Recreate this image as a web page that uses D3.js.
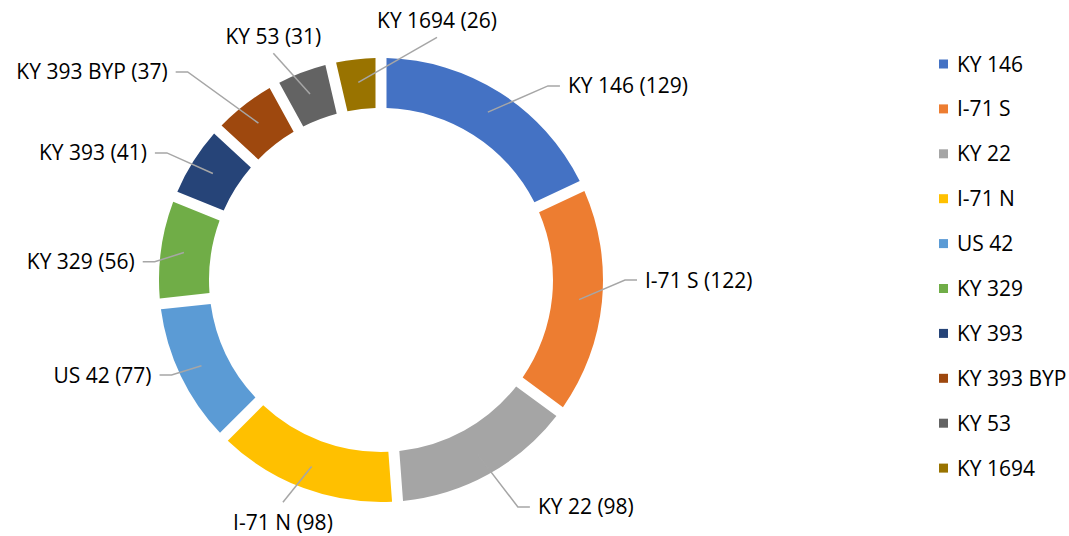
<!DOCTYPE html>
<html>
<head>
<meta charset="utf-8">
<script src="https://cdn.jsdelivr.net/npm/d3@7"></script>
<style>
  html, body { margin: 0; padding: 0; background: #fff; }
  text { font-family: "Open Sans", sans-serif; font-size: 21px; fill: #000; }
</style>
</head>
<body>
<div id="chart"></div>
<script>
var roads = ["KY 146", "I-71 S", "KY 22", "I-71 N", "US 42", "KY 329", "KY 393", "KY 393 BYP", "KY 53", "KY 1694"];
var counts = [129, 122, 98, 98, 77, 56, 41, 37, 31, 26];
var colors = ["#4472C4", "#ED7D31", "#A5A5A5", "#FFC000", "#5B9BD5", "#70AD47", "#264478", "#9E480E", "#636363", "#997300"];

// where Excel put the elbow of each leader line (degrees clockwise from top, distance from centre)
var labelAngle = [40.7, 90, 148.9, 203.8, 245.6, 274.6, 300.7, 317.1, 334.6, 13.0];
var labelRadius = [256, 244, 265, 243, 230, 227, 249, 284, 251, 249];

var width = 1069, height = 536;
var cx = 381, cy = 280;
var outerR = 222, innerR = 172;

var svg = d3.select('#chart')
  .append('svg')
  .attr('width', width)
  .attr('height', height);

// no pie padding: keep the slice boundaries at their true angles,
// the arc generator cuts a constant-width gap out of each side
var pie = d3.pie()
  .sort(null)
  .value(function(d) { return d; });

var arc = d3.arc()
  .innerRadius(innerR)
  .outerRadius(outerR)
  .padAngle(0.055)
  .padRadius(200);

var arcs = pie(counts);

var g = svg.append('g')
  .attr('transform', 'translate(' + cx + ',' + cy + ')');

g.selectAll('path.slice')
  .data(arcs)
  .enter().append('path')
  .attr('class', 'slice')
  .attr('d', arc)
  .attr('fill', function(d, i) { return colors[i]; });

/* polar helper, angle in radians clockwise from 12 o'clock */
function polar(a, r) {
  return [Math.sin(a) * r, -Math.cos(a) * r];
}

var midR = (innerR + outerR) / 2 + 2;

arcs.forEach(function(d, i) {
  var a0 = (d.startAngle + d.endAngle) / 2;
  var start = polar(a0, midR);
  var la = labelAngle[i] * Math.PI / 180;
  var elbow = polar(la, labelRadius[i]);
  var text = roads[i] + ' (' + counts[i] + ')';
  var fromVertical = Math.abs(Math.asin(Math.sin(la))) * 180 / Math.PI; // 0 = top/bottom, 90 = sides
  var pts = [start, elbow];

  if (fromVertical < 28) {
    // label sits above / below the end of the line
    var below = Math.cos(la) < 0;
    g.append('text')
      .attr('x', elbow[0])
      .attr('y', below ? elbow[1] + 27.5 : elbow[1] - 9.5)
      .attr('text-anchor', 'middle')
      .text(text);
  } else {
    var right = Math.sin(la) > 0;
    var endX = elbow[0] + (right ? 12 : -12);
    pts.push([endX, elbow[1]]);
    g.append('text')
      .attr('x', endX + (right ? 8 : -8))
      .attr('y', elbow[1] + 7.5)
      .attr('text-anchor', right ? 'start' : 'end')
      .text(text);
  }

  g.insert('path', 'text')
    .attr('d', d3.line()(pts))
    .attr('fill', 'none')
    .attr('stroke', '#A6A6A6')
    .attr('stroke-width', 1.5);
});

/* legend */
var legend = svg.append('g')
  .attr('transform', 'translate(939,64)');

var item = legend.selectAll('g.item')
  .data(roads)
  .enter().append('g')
  .attr('class', 'item')
  .attr('transform', function(d, i) { return 'translate(0,' + (i * 44.9) + ')'; });

item.append('rect')
  .attr('x', 0)
  .attr('y', -4.5)
  .attr('width', 9)
  .attr('height', 9)
  .attr('fill', function(d, i) { return colors[i]; });

item.append('text')
  .attr('x', 18)
  .attr('y', 7.5)
  .text(function(d) { return d; });
</script>
</body>
</html>
